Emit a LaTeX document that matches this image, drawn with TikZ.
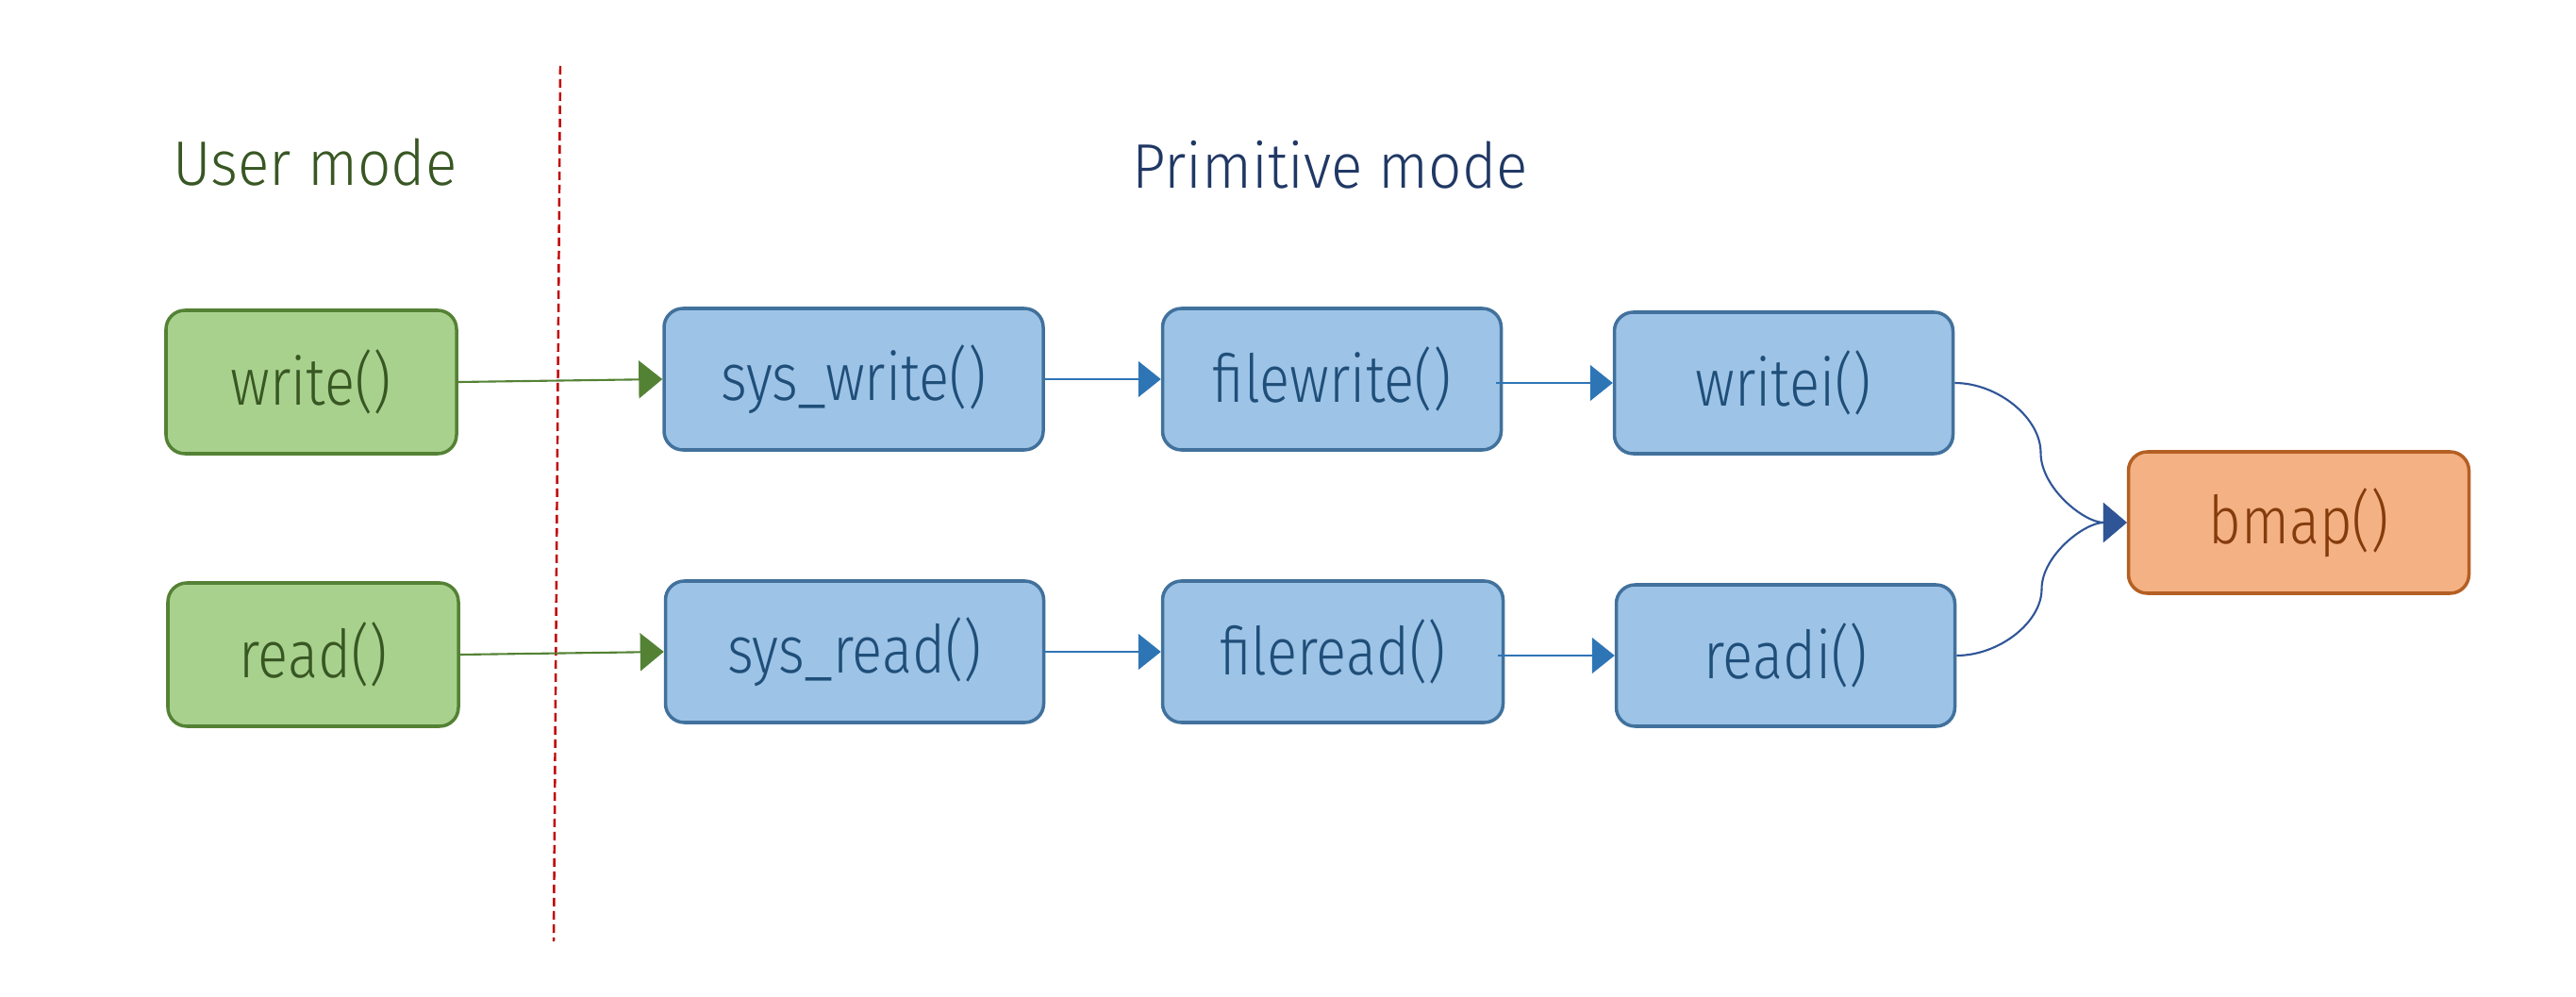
\documentclass[tikz,border=0pt]{standalone}
\usepackage{fontspec}
\usetikzlibrary{arrows.meta,calc}
\newfontfamily\boxfont{Fira Sans Light}[FakeStretch=0.85]
\newfontfamily\titlefont{Fira Sans Light}[FakeStretch=0.93]
\definecolor{gfill}{HTML}{A9D18E}
\definecolor{gline}{HTML}{548235}
\definecolor{gtext}{HTML}{385723}
\definecolor{bfill}{HTML}{9DC3E6}
\definecolor{bline}{HTML}{41719C}
\definecolor{btext}{HTML}{1F4E79}
\definecolor{ofill}{HTML}{F4B183}
\definecolor{oline}{HTML}{B45F24}
\definecolor{otext}{HTML}{843C0C}
\definecolor{barrow}{HTML}{2E75B6}
\definecolor{carrow}{HTML}{2F5597}
\definecolor{tblue}{HTML}{203864}
\definecolor{dred}{HTML}{C00000}
\tikzset{
  fbox/.style={draw, line width=1pt, rounded corners=0.2cm, inner sep=0pt,
    minimum height=1.50cm, font=\boxfont\fontsize{20}{24}\selectfont},
  userbox/.style={fbox, fill=gfill, draw=gline, text=gtext, minimum width=3.08cm},
  primbox/.style={fbox, fill=bfill, draw=bline, text=btext},
  bmapbox/.style={fbox, fill=ofill, draw=oline, text=otext, minimum width=3.61cm},
  garrow/.style={draw=gline, line width=0.6pt, -{Triangle[length=0.25cm,width=0.40cm]}},
  barr/.style={draw=barrow, line width=0.6pt, -{Triangle[length=0.24cm,width=0.38cm]}},
  carr/.style={draw=carrow, line width=0.6pt, -{Triangle[length=0.25cm,width=0.42cm]}},
  titletext/.style={anchor=base, inner sep=0pt, font=\titlefont\fontsize{19}{23}\selectfont},
  divider/.style={draw=dred, line width=0.7pt, dash pattern=on 0.09cm off 0.05cm}
}
\begin{document}
\begin{tikzpicture}
\useasboundingbox (0,0) rectangle (27.31,-10.57);
% titles
\node[titletext, text=gtext] (usertitle) at (3.34,-1.97) {User mode};
\node[titletext, text=tblue] (primtitle) at (14.10,-2.00) {Primitive mode};
% divider
\coordinate (divtop) at (5.94,-0.70);
\coordinate (divbot) at (5.87,-9.98);
\draw[divider] (divtop) -- (divbot);
% boxes
\node[userbox, minimum height=1.52cm] (write) at (3.30,-4.05) {write()};
\node[userbox, minimum height=1.52cm] (read) at (3.32,-6.94) {read()};
\node[primbox, minimum width=4.02cm] (syswrite) at (9.05,-4.02) {sys\_write()};
\node[primbox, minimum width=4.01cm] (sysread) at (9.06,-6.91) {sys\_read()};
\node[primbox, minimum width=3.59cm] (filewrite) at (14.12,-4.02) {filewrite()};
\node[primbox, minimum width=3.61cm] (fileread) at (14.13,-6.91) {fileread()};
\node[primbox, minimum width=3.59cm] (writei) at (18.91,-4.06) {writei()};
\node[primbox, minimum width=3.59cm] (readi) at (18.93,-6.95) {readi()};
\node[bmapbox] (bmap) at (24.37,-5.54) {bmap()};
% connectors
\draw[garrow] (write.east) -- (syswrite.west);
\draw[garrow] (read.east) -- (sysread.west);
\draw[barr] (syswrite.east) -- (filewrite.west);
\draw[barr] (sysread.east) -- (fileread.west);
\coordinate (fwout) at ([xshift=-0.07cm]filewrite.east |- writei.west);
\coordinate (frout) at ([xshift=-0.07cm]fileread.east |- readi.west);
\draw[barr] (fwout) -- (writei.west);
\draw[barr] (frout) -- (readi.west);
\coordinate (wmid) at ($(writei.east)!0.5!(bmap.west)$);
\coordinate (rmid) at ($(readi.east)!0.5!(bmap.west)$);
\draw[carr] (writei.east)
  .. controls ($(writei.east)!0.5!(writei.east -| wmid)$) and ($(wmid)!0.5!(wmid |- writei.east)$) .. (wmid)
  .. controls ($(wmid)!0.5!(wmid |- bmap.west)$) and ($(bmap.west)!0.5!(bmap.west -| wmid)$) .. (bmap.west);
\draw[carr] (readi.east)
  .. controls ($(readi.east)!0.5!(readi.east -| rmid)$) and ($(rmid)!0.5!(rmid |- readi.east)$) .. (rmid)
  .. controls ($(rmid)!0.5!(rmid |- bmap.west)$) and ($(bmap.west)!0.5!(bmap.west -| rmid)$) .. (bmap.west);
\end{tikzpicture}
\end{document}
